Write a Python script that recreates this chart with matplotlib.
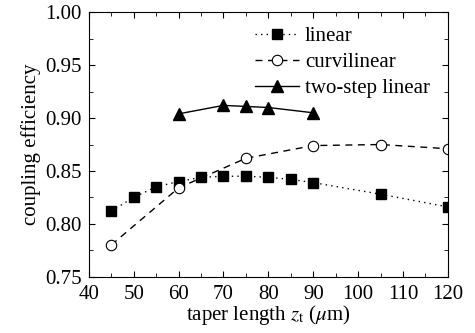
import matplotlib
matplotlib.use('Agg')
import matplotlib.pyplot as plt
from matplotlib.ticker import MultipleLocator

plt.rcParams['font.family'] = ['Liberation Serif', 'DejaVu Serif']
plt.rcParams['mathtext.fontset'] = 'stix'

# data
lin_x = [45, 50, 55, 60, 65, 70, 75, 80, 85, 90, 105, 120]
lin_y = [0.812, 0.825, 0.835, 0.840, 0.844, 0.845, 0.845, 0.844, 0.842, 0.839, 0.828, 0.816]
curv_x = [45, 60, 75, 90, 105, 120]
curv_y = [0.780, 0.834, 0.862, 0.874, 0.875, 0.871]
two_x = [60, 70, 75, 80, 90]
two_y = [0.904, 0.912, 0.911, 0.910, 0.905]

fs = 15
fig = plt.figure(figsize=(4.75, 3.33), dpi=100)
ax = fig.add_axes([0.187, 0.169, 0.756, 0.794])

ax.plot(lin_x, lin_y, ls=(0, (1, 3)), color='k', lw=1.0, marker='s', ms=6.5,
        mfc='k', mec='k', label='linear')
ax.plot(curv_x, curv_y, ls=(0, (5, 4)), color='k', lw=1.0, marker='o', ms=7.5,
        mfc='white', mec='k', mew=0.8, label='curvilinear')
ax.plot(two_x, two_y, ls='-', color='k', lw=1.0, marker='^', ms=8.5,
        mfc='k', mec='k', label='two-step linear')

ax.set_xlim(40, 120)
ax.set_ylim(0.75, 1.00)
ax.xaxis.set_major_locator(MultipleLocator(10))
ax.xaxis.set_minor_locator(MultipleLocator(5))
ax.yaxis.set_major_locator(MultipleLocator(0.05))
ax.yaxis.set_minor_locator(MultipleLocator(0.025))
ax.yaxis.set_major_formatter(matplotlib.ticker.FormatStrFormatter('%.2f'))
ax.tick_params(which='both', direction='in', top=True, right=True, labelsize=fs)
ax.tick_params(axis='x', pad=6)
ax.tick_params(axis='y', pad=5)
ax.tick_params(which='major', length=4)
ax.tick_params(which='minor', length=3)

ax.set_xlabel(r'taper length $z_{\rm t}$ ($\mu$m)', fontsize=fs, labelpad=-1)
ax.set_ylabel('coupling efficiency', fontsize=fs, labelpad=3)

ax.legend(loc='upper right', frameon=False, fontsize=fs, handlelength=2.1,
          handletextpad=0.3, labelspacing=0.3, borderaxespad=0.3,
          bbox_to_anchor=(0.99, 1.0))

plt.savefig('out.png', dpi=100)
